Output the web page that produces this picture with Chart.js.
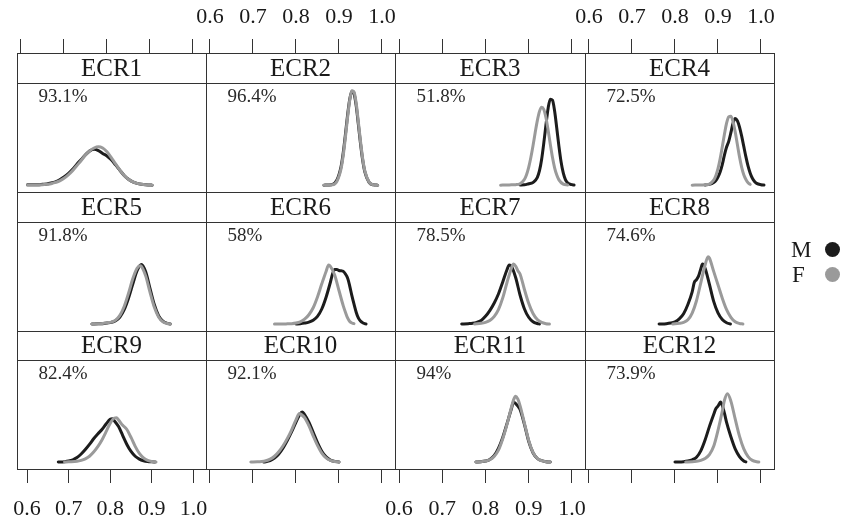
<!DOCTYPE html>
<html><head><meta charset="utf-8">
<script src="https://cdn.jsdelivr.net/npm/chart.js@4.4.1/dist/chart.umd.min.js"></script>
<style>
html,body{margin:0;padding:0;background:#fff;}
#wrap{position:relative;width:842px;height:522px;overflow:hidden;background:#fff;}
#wrap canvas{position:absolute;left:0;top:0;}
.leg{position:absolute;font-family:'Liberation Serif','Times New Roman',serif;font-size:23px;line-height:1;color:#1a1a1a;}
.dot{position:absolute;width:15px;height:15px;border-radius:50%;}
</style></head><body>
<div id="wrap">
  <div class="leg" style="left:791px;top:238px">M</div>
  <div class="dot" style="left:825px;top:242px;background:#1c1c1c"></div>
  <div class="leg" style="left:792px;top:263px">F</div>
  <div class="dot" style="left:825px;top:267px;background:#9a9a9a"></div>
</div>
<script>
// ---------- data ----------
const panelNames = ['ECR1','ECR2','ECR3','ECR4','ECR5','ECR6','ECR7','ECR8','ECR9','ECR10','ECR11','ECR12'];
const percentLabels = ['93.1%','96.4%','51.8%','72.5%','91.8%','58%','78.5%','74.6%','82.4%','92.1%','94%','73.9%'];
const seriesNames = ['M','F'];
const tickValues = [0.6,0.7,0.8,0.9,1.0];
const tickLabels = ['0.6','0.7','0.8','0.9','1.0'];

const ECR1_M_x = [0.615,0.62,0.63,0.64,0.65,0.66,0.67,0.68,0.69,0.70,0.71,0.72,0.73,0.74,0.75,0.76,0.77,0.78,0.79,0.80,0.81,0.82,0.83,0.84,0.85,0.86,0.87,0.88,0.89,0.90,0.905];
const ECR1_M_y = [0.15,0.15,0.2,0.2,0.3,0.4,0.7,1.1,1.7,2.6,3.7,5.0,6.6,8.1,9.6,10.8,11.3,10.9,10.0,9.2,8.0,6.4,4.7,3.1,1.9,1.1,0.6,0.3,0.15,0.1,0.05];
const ECR1_F_x = [0.615,0.62,0.63,0.64,0.65,0.66,0.67,0.68,0.69,0.70,0.71,0.72,0.73,0.74,0.75,0.76,0.77,0.78,0.79,0.80,0.81,0.82,0.83,0.84,0.85,0.86,0.87,0.88,0.89,0.90,0.905];
const ECR1_F_y = [0.1,0.1,0.1,0.1,0.15,0.3,0.5,0.9,1.4,2.2,3.3,4.6,6.2,7.8,9.5,10.8,11.7,12.1,11.7,10.5,8.7,6.7,4.8,3.1,1.9,1.1,0.6,0.3,0.15,0.1,0.05];

const ECR2_M_x = [0.865,0.875,0.885,0.895,0.905,0.91,0.915,0.92,0.925,0.93,0.935,0.94,0.945,0.95,0.955,0.96,0.97,0.98,0.99];
const ECR2_M_y = [0.05,0.1,0.3,1.6,6.0,10.3,16.0,22.0,27.0,29.5,28.8,25.0,19.2,13.2,8.0,4.3,0.9,0.15,0.05];
const ECR2_F_x = [0.865,0.875,0.885,0.895,0.905,0.91,0.915,0.92,0.925,0.93,0.935,0.94,0.945,0.95,0.955,0.96,0.97,0.98,0.99];
const ECR2_F_y = [0.05,0.1,0.16,1.2,5.3,9.5,15.1,21.3,26.7,29.7,29.3,25.8,20.0,13.9,8.5,4.6,1.0,0.15,0.05];

const ECR3_M_x = [0.88,0.89,0.90,0.91,0.915,0.92,0.925,0.93,0.935,0.94,0.945,0.95,0.955,0.96,0.965,0.97,0.975,0.98,0.985,0.99,1.0,1.005];
const ECR3_M_y = [0.1,0.15,0.5,0.9,1.5,2.5,4.6,8.2,13.3,19.0,24.2,27.0,26.7,23.3,17.9,12.2,7.3,3.9,1.8,0.8,0.2,0.1];
const ECR3_F_x = [0.835,0.85,0.86,0.87,0.88,0.89,0.895,0.90,0.905,0.91,0.915,0.92,0.925,0.93,0.935,0.94,0.945,0.95,0.955,0.96,0.965,0.97,0.98,0.99];
const ECR3_F_y = [0.05,0.1,0.15,0.2,0.5,1.8,3.3,5.6,8.7,12.4,16.5,20.3,23.2,24.5,23.8,21.2,17.3,12.9,8.8,5.5,3.2,1.7,0.35,0.1];

const ECR4_M_x = [0.87,0.88,0.89,0.895,0.90,0.905,0.91,0.915,0.92,0.925,0.93,0.935,0.94,0.945,0.95,0.955,0.96,0.965,0.97,0.975,0.98,0.985,0.99,1.0,1.007];
const ECR4_M_y = [0.1,0.3,0.9,1.5,2.6,4.2,6.5,9.5,12.0,13.8,16.5,19.5,21.0,20.3,18.3,15.5,12.2,8.9,6.0,3.8,2.2,1.2,0.6,0.2,0.1];
const ECR4_F_x = [0.84,0.86,0.87,0.88,0.89,0.895,0.90,0.905,0.91,0.915,0.92,0.925,0.93,0.935,0.94,0.945,0.95,0.955,0.96,0.965,0.97,0.975];
const ECR4_F_y = [0.05,0.1,0.2,0.4,1.6,3.0,5.2,8.3,12.1,16.0,19.5,21.5,21.7,20.0,16.8,12.9,9.0,5.7,3.3,1.8,0.8,0.3];

const ECR5_M_x = [0.765,0.78,0.79,0.80,0.81,0.82,0.83,0.84,0.85,0.86,0.87,0.88,0.89,0.90,0.91,0.92,0.93,0.94,0.947];
const ECR5_M_y = [0.1,0.15,0.2,0.4,0.6,1.1,2.3,4.6,8.2,12.6,16.8,18.8,16.5,11.3,6.2,2.7,1.0,0.3,0.1];
const ECR5_F_x = [0.765,0.78,0.79,0.80,0.81,0.82,0.83,0.84,0.85,0.86,0.87,0.877,0.88,0.89,0.90,0.91,0.92,0.93,0.94,0.947];
const ECR5_F_y = [0.1,0.15,0.25,0.5,0.7,1.3,2.8,5.6,9.7,14.3,17.6,18.4,18.2,15.2,10.1,5.4,2.3,0.8,0.25,0.1];

const ECR6_M_x = [0.80,0.81,0.82,0.83,0.84,0.85,0.86,0.87,0.88,0.885,0.89,0.895,0.90,0.905,0.91,0.915,0.92,0.925,0.93,0.935,0.94,0.945,0.95,0.955,0.96,0.963];
const ECR6_M_y = [0.1,0.2,0.4,0.7,1.3,2.5,4.8,8.5,13.2,15.8,17.2,17.2,16.9,16.8,16.6,15.8,14.5,12.0,9.0,6.3,3.8,2.0,1.0,0.5,0.2,0.1];
const ECR6_F_x = [0.75,0.77,0.78,0.79,0.80,0.81,0.82,0.83,0.84,0.85,0.86,0.87,0.876,0.88,0.89,0.90,0.91,0.915,0.92,0.925,0.93,0.935];
const ECR6_F_y = [0.1,0.1,0.15,0.2,0.4,0.8,1.6,3.0,5.2,8.6,12.7,16.6,18.6,18.2,15.5,10.6,5.8,3.8,2.0,0.9,0.4,0.2];

const ECR7_M_x = [0.745,0.76,0.77,0.78,0.79,0.80,0.81,0.82,0.83,0.84,0.85,0.855,0.86,0.87,0.88,0.89,0.90,0.91,0.92,0.925];
const ECR7_M_y = [0.1,0.2,0.3,0.6,1.2,2.5,4.3,6.6,9.5,13.3,17.2,18.6,18.2,14.6,9.2,4.9,2.2,0.8,0.25,0.1];
const ECR7_F_x = [0.775,0.79,0.80,0.81,0.82,0.83,0.84,0.85,0.86,0.865,0.87,0.875,0.88,0.89,0.90,0.91,0.92,0.93,0.94,0.948];
const ECR7_F_y = [0.1,0.3,0.6,1.2,2.4,4.6,8.3,13.2,17.6,18.9,18.2,16.8,15.8,11.0,6.6,3.4,1.5,0.6,0.2,0.1];

const ECR8_M_x = [0.763,0.78,0.79,0.80,0.81,0.82,0.83,0.84,0.845,0.85,0.855,0.86,0.864,0.87,0.88,0.89,0.90,0.91,0.92,0.929];
const ECR8_M_y = [0.1,0.2,0.4,0.8,1.7,3.3,6.2,10.2,13.2,14.0,15.2,17.4,18.9,17.6,12.6,7.2,3.6,1.5,0.5,0.1];
const ECR8_F_x = [0.795,0.81,0.82,0.83,0.84,0.85,0.86,0.87,0.877,0.88,0.89,0.90,0.91,0.92,0.93,0.94,0.95,0.958];
const ECR8_F_y = [0.1,0.3,0.6,1.4,3.5,7.4,13.0,18.6,21.2,20.8,16.6,12.4,8.2,4.6,2.2,0.8,0.25,0.1];

const ECR9_M_x = [0.675,0.69,0.70,0.71,0.72,0.73,0.74,0.75,0.76,0.77,0.78,0.79,0.80,0.805,0.81,0.82,0.83,0.84,0.85,0.86,0.87,0.88,0.89,0.90,0.908];
const ECR9_M_y = [0.1,0.2,0.4,0.8,1.5,2.6,4.0,5.6,7.4,8.9,10.3,12.0,13.5,13.7,13.0,11.2,8.4,5.6,3.4,1.9,1.0,0.5,0.25,0.15,0.1];
const ECR9_F_x = [0.69,0.70,0.72,0.73,0.74,0.75,0.76,0.77,0.78,0.79,0.80,0.81,0.815,0.82,0.83,0.84,0.85,0.86,0.87,0.88,0.89,0.90,0.91];
const ECR9_F_y = [0.1,0.15,0.3,0.6,1.1,1.9,3.2,4.9,7.0,9.6,12.3,13.9,14.0,13.3,11.6,10.3,7.8,5.0,2.8,1.4,0.6,0.25,0.1];

const ECR10_M_x = [0.725,0.74,0.75,0.76,0.77,0.78,0.79,0.80,0.81,0.815,0.82,0.83,0.84,0.85,0.86,0.87,0.88,0.89,0.90];
const ECR10_M_y = [0.1,0.5,1.3,2.6,4.5,6.9,9.6,12.6,15.3,15.8,15.0,12.6,9.4,6.2,3.5,1.7,0.7,0.3,0.1];
const ECR10_F_x = [0.695,0.71,0.72,0.73,0.74,0.75,0.76,0.77,0.78,0.79,0.80,0.808,0.81,0.82,0.83,0.84,0.85,0.86,0.87,0.88,0.89,0.90];
const ECR10_F_y = [0.1,0.15,0.25,0.5,1.0,1.9,3.3,5.2,7.5,10.2,13.3,15.3,15.2,14.0,11.5,8.3,5.3,2.9,1.4,0.6,0.25,0.1];

const ECR11_M_x = [0.778,0.79,0.80,0.81,0.82,0.83,0.84,0.85,0.86,0.865,0.87,0.875,0.88,0.89,0.90,0.91,0.92,0.93,0.94,0.95];
const ECR11_M_y = [0.1,0.2,0.4,0.9,2.1,4.4,7.8,12.2,16.8,18.9,18.4,17.6,16.6,12.0,6.6,3.0,1.2,0.5,0.2,0.1];
const ECR11_F_x = [0.778,0.79,0.80,0.81,0.82,0.83,0.84,0.85,0.86,0.865,0.87,0.875,0.88,0.89,0.90,0.91,0.92,0.93,0.94,0.95];
const ECR11_F_y = [0.1,0.2,0.4,0.8,1.8,3.8,7.4,12.0,17.2,19.6,20.7,19.8,17.8,12.4,6.9,3.1,1.2,0.5,0.2,0.1];

const ECR12_M_x = [0.80,0.82,0.83,0.84,0.85,0.86,0.87,0.88,0.89,0.895,0.90,0.906,0.91,0.915,0.92,0.93,0.94,0.95,0.96,0.965];
const ECR12_M_y = [0.1,0.2,0.4,0.8,1.6,3.6,7.0,11.2,15.0,16.8,17.6,18.9,17.8,15.4,12.5,8.0,4.2,1.8,0.4,0.15];
const ECR12_F_x = [0.825,0.84,0.85,0.86,0.87,0.88,0.89,0.90,0.91,0.915,0.922,0.93,0.94,0.95,0.96,0.97,0.98,0.99,0.995];
const ECR12_F_y = [0.1,0.15,0.3,0.6,1.2,2.4,5.0,10.0,16.0,19.4,21.5,19.2,13.6,8.2,4.2,1.8,0.6,0.2,0.1];

const curves = [
  [ECR1_M_x, ECR1_M_y, ECR1_F_x, ECR1_F_y],
  [ECR2_M_x, ECR2_M_y, ECR2_F_x, ECR2_F_y],
  [ECR3_M_x, ECR3_M_y, ECR3_F_x, ECR3_F_y],
  [ECR4_M_x, ECR4_M_y, ECR4_F_x, ECR4_F_y],
  [ECR5_M_x, ECR5_M_y, ECR5_F_x, ECR5_F_y],
  [ECR6_M_x, ECR6_M_y, ECR6_F_x, ECR6_F_y],
  [ECR7_M_x, ECR7_M_y, ECR7_F_x, ECR7_F_y],
  [ECR8_M_x, ECR8_M_y, ECR8_F_x, ECR8_F_y],
  [ECR9_M_x, ECR9_M_y, ECR9_F_x, ECR9_F_y],
  [ECR10_M_x, ECR10_M_y, ECR10_F_x, ECR10_F_y],
  [ECR11_M_x, ECR11_M_y, ECR11_F_x, ECR11_F_y],
  [ECR12_M_x, ECR12_M_y, ECR12_F_x, ECR12_F_y]
];

// ---------- layout / style ----------
const W = 842, H = 522;
const X_MIN = 0.5907, X_MAX = 1.0303, Y_MIN = -2.1, Y_MAX = 32.1;
const COL_L = [17, 206, 395, 585], COL_R = [206, 395, 585, 774];
const STRIP_T = [53, 192, 331], PLOT_T = [83, 222, 360], PLOT_B = [192, 331, 469];
const FONT = "'Liberation Serif','Times New Roman',serif";
const COL_M = '#1c1c1c', COL_F = '#9a9a9a', FRAME = '#333333';

const panelPlugin = {
  id: 'panel',
  afterDraw(chart, args, o) {
    const ctx = chart.ctx;
    const L = COL_L[o.c], R = COL_R[o.c], st = STRIP_T[o.r], pt = PLOT_T[o.r], pb = PLOT_B[o.r];
    ctx.save();
    ctx.strokeStyle = FRAME; ctx.lineWidth = 1;
    ctx.strokeRect(L + 0.5, st + 0.5, R - L, pb - st);
    ctx.beginPath(); ctx.moveTo(L, pt + 0.5); ctx.lineTo(R + 1, pt + 0.5); ctx.stroke();
    ctx.fillStyle = '#1a1a1a';
    ctx.font = '25px ' + FONT;
    ctx.textAlign = 'center'; ctx.textBaseline = 'middle';
    ctx.fillText(o.name, (L + R) / 2, (st + pt) / 2 + 1);
    ctx.font = '19px ' + FONT;
    ctx.textAlign = 'left';
    ctx.fillStyle = '#2a2a2a';
    ctx.fillText(o.pct, L + 21.5, pt + 14);
    ctx.restore();
  }
};

const wrap = document.getElementById('wrap');

function pts(xs, ys) { return xs.map((x, i) => ({ x: x, y: ys[i] })); }

for (let k = 0; k < 12; k++) {
  const r = Math.floor(k / 4), c = k % 4;
  const cv = document.createElement('canvas');
  cv.width = W; cv.height = H;
  cv.style.width = W + 'px'; cv.style.height = H + 'px';
  wrap.insertBefore(cv, wrap.firstChild);
  const [mx, my, fx, fy] = curves[k];

  const showTop = (r === 0), showBottom = (r === 2);
  const hasAxis = showTop || showBottom;
  const labelled = showTop ? (c % 2 === 1) : (c % 2 === 0);
  const yMax = showTop
    ? Y_MAX + (PLOT_T[0] - STRIP_T[0]) / (PLOT_B[0] - PLOT_T[0]) * (Y_MAX - Y_MIN)
    : Y_MAX;

  const xScale = {
    type: 'linear', min: X_MIN, max: X_MAX,
    display: hasAxis,
    position: showTop ? 'top' : 'bottom',
    afterBuildTicks: s => { s.ticks = tickValues.map(v => ({ value: v })); },
    afterFit: s => { if (hasAxis) s.height = showTop ? STRIP_T[0] : (H - PLOT_B[2]); else s.height = 0; },
    ticks: {
      autoSkip: false, maxRotation: 0, minRotation: 0,
      padding: showTop ? 9 : 13,
      font: { family: FONT, size: 22 },
      color: '#1a1a1a',
      callback: (v, i) => labelled ? tickLabels[i] : ''
    },
    grid: { drawOnChartArea: false, drawTicks: true, tickLength: 14, color: FRAME, lineWidth: 1 },
    border: { display: false }
  };

  new Chart(cv, {
    type: 'line',
    data: {
      datasets: [
        { label: seriesNames[1], data: pts(fx, fy), borderColor: COL_F, borderWidth: 3,
          pointRadius: 0, fill: false, cubicInterpolationMode: 'monotone',
          borderCapStyle: 'round', borderJoinStyle: 'round' },
        { label: seriesNames[0], data: pts(mx, my), borderColor: COL_M, borderWidth: 3,
          pointRadius: 0, fill: false, cubicInterpolationMode: 'monotone',
          borderCapStyle: 'round', borderJoinStyle: 'round' }
      ]
    },
    options: {
      responsive: false, animation: false, devicePixelRatio: 1, events: [],
      layout: { padding: {
        left: COL_L[c], right: W - COL_R[c],
        top: showTop ? 0 : PLOT_T[r],
        bottom: showBottom ? 0 : H - PLOT_B[r]
      } },
      scales: {
        x: xScale,
        y: { type: 'linear', display: false, min: Y_MIN, max: yMax }
      },
      plugins: {
        legend: { display: false }, tooltip: { enabled: false },
        panel: { r: r, c: c, name: panelNames[k], pct: percentLabels[k] }
      }
    },
    plugins: [panelPlugin]
  });
}
</script>
</body></html>
